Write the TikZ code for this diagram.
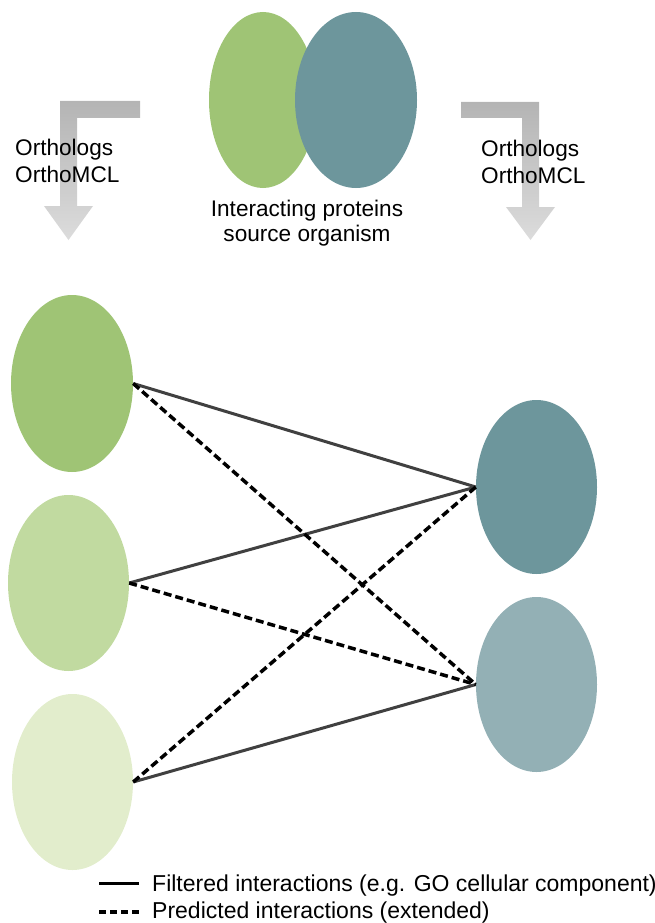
\documentclass[tikz,border=0pt]{standalone}
\usepackage{fontspec}
\setmainfont{Liberation Sans}
\usetikzlibrary{shapes.geometric}
\definecolor{gA}{HTML}{9FC475}
\definecolor{gB}{HTML}{C1DAA0}
\definecolor{gC}{HTML}{E2EDCC}
\definecolor{tA}{HTML}{6D969C}
\definecolor{tB}{HTML}{93B0B5}
\definecolor{solidc}{HTML}{404040}
\definecolor{arrtop}{HTML}{B4B4B4}
\definecolor{arrbot}{HTML}{DCDCDC}
\tikzset{
  blob/.style={ellipse, inner sep=0pt, draw=none, minimum width=121pt, minimum height=176pt},
  lbl/.style={font=\fontsize{22.6}{26.5}\selectfont, inner sep=0pt, align=left},
  leg/.style={font=\fontsize{23}{27}\selectfont, inner sep=0pt, anchor=base west},
  filt/.style={solidc, line width=3pt},
  pred/.style={black, line width=3.5pt, dash pattern=on 8pt off 4pt},
  predleg/.style={black, line width=3.5pt, dash pattern=on 7pt off 4pt},
  grayarrow/.style={top color=arrtop, bottom color=arrbot, draw=none}
}
\begin{document}
\begin{tikzpicture}[x=1pt,y=-1pt]
\useasboundingbox (0,0) rectangle (655,923);
% top source organism
\node[blob, fill=gA, minimum width=108pt] (srcA) at (263,100) {};
\node[blob, fill=tA, minimum width=122pt] (srcB) at (356,100) {};
\node[lbl, align=center, font=\fontsize{22.6}{25}\selectfont, anchor=north] (srclbl) at (307,200) {Interacting proteins\\source organism};
% gray arrows
\path[grayarrow] (140,101) -- (60,101) -- (60,206) -- (44,206) -- (68.5,240) -- (93,206) -- (77,206) -- (77,118) -- (140,118) -- cycle;
\path[grayarrow] (461,102) -- (539,102) -- (539,207) -- (555,207) -- (530.5,240) -- (506,207) -- (522,207) -- (522,118) -- (461,118) -- cycle;
\node[lbl, anchor=north west] (orthL) at (15,139) {Orthologs\\OrthoMCL};
\node[lbl, anchor=north west] (orthR) at (481,140) {Orthologs\\OrthoMCL};
% target organisms
\node[blob, fill=gA, minimum width=122pt, minimum height=177pt] (L1) at (72,383.5) {};
\node[blob, fill=gB] (L2) at (68.5,583) {};
\node[blob, fill=gC] (L3) at (72.5,782) {};
\node[blob, fill=tA, minimum height=174pt] (R1) at (536.5,487) {};
\node[blob, fill=tB, minimum height=175pt] (R2) at (536.5,684.5) {};
% interactions
\draw[filt] (L1.east) -- (R1.west);
\draw[filt] (L2.east) -- (R1.west);
\draw[filt] (L3.east) -- (R2.west);
\draw[pred] (L1.east) -- (R2.west);
\draw[pred] (L2.east) -- (R2.west);
\draw[pred] (L3.east) -- (R1.west);
% legend
\coordinate (s1) at (99,883);
\coordinate (s2) at (139,883);
\coordinate (d1) at (99,912);
\coordinate (d2) at (139,912);
\draw[filt, black] (s1) -- (s2);
\draw[predleg] (d1) -- (d2);
\node[leg] (legA) at (152,891) {Filtered interactions (e.g. GO cellular component)};
\node[leg] (legB) at (152,918) {Predicted interactions (extended)};
\end{tikzpicture}
\end{document}
